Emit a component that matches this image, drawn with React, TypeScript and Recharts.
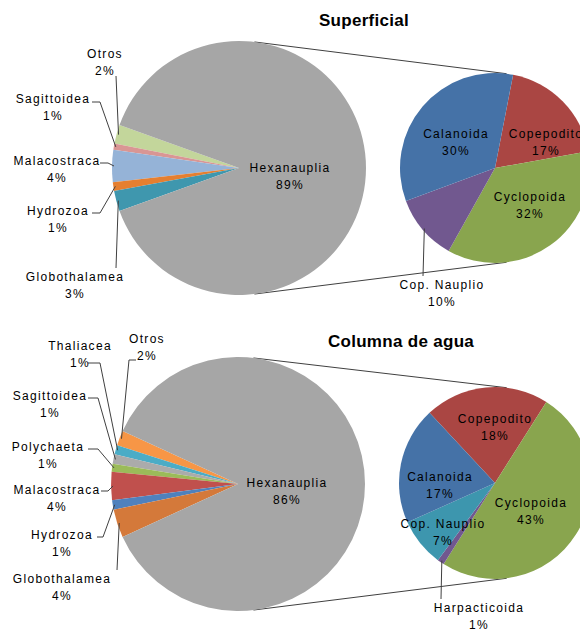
import React from 'react';
import { PieChart, Pie, Cell, Customized } from 'recharts';

// Superficial: main pie, % of total
const supNames = ['Otros', 'Sagittoidea', 'Malacostraca', 'Hydrozoa', 'Globothalamea', 'Hexanauplia'];
const supValues = [2.4, 0.8, 4.1, 1.1, 2.6, 89];
const supColors = ['#C3D69B', '#D99694', '#95B3D7', '#E57F30', '#3F97AE', '#A6A6A6'];

// Superficial: Hexanauplia split
const supSubNames = ['Copepodito', 'Cyclopoida', 'Cop. Nauplio', 'Calanoida'];
const supSubValues = [17, 32, 10, 30];
const supSubColors = ['#AA4643', '#89A54E', '#71588F', '#4572A7'];

// Columna de agua: main pie
const colNames = ['Otros', 'Thaliacea', 'Sagittoidea', 'Polychaeta', 'Malacostraca', 'Hydrozoa', 'Globothalamea', 'Hexanauplia'];
const colValues = [1.9, 1.2, 1.2, 1.0, 3.6, 1.2, 3.6, 86.3];
const colColors = ['#F79646', '#4BACC6', '#ABABAB', '#9BBB59', '#C0504D', '#4F81BD', '#D4793A', '#A6A6A6'];

// Columna de agua: Hexanauplia split
const colSubNames = ['Copepodito', 'Cyclopoida', 'Harpacticoida', 'Cop. Nauplio', 'Calanoida'];
const colSubValues = [18, 43, 1, 7, 17];
const colSubColors = ['#AA4643', '#89A54E', '#71588F', '#3D96AE', '#4572A7'];

const toRows = (names: string[], values: number[]) => names.map((name, i) => ({ name, value: values[i] }));

const supData = toRows(supNames, supValues);
const supSubData = toRows(supSubNames, supSubValues);
const colData = toRows(colNames, colValues);
const colSubData = toRows(colSubNames, colSubValues);

// pie geometry
const SUP = { cx: 239, cy: 168, r: 127 };
const SUP_SUB = { cx: 495, cy: 168, r: 95 };
const COL = { cx: 238, cy: 484, r: 127 };
const COL_SUB = { cx: 495, cy: 483, r: 96 };
const LINK_ANGLE = 83;

// the small slices sit centred on the left side
const leftStart = (values: number[]) => {
  const rest = values.slice(0, -1).reduce((a, b) => a + b, 0);
  const total = values.reduce((a, b) => a + b, 0);
  return 180 - (rest / total) * 180;
};

type Spot = { dx: number; dy: number; leader?: [number, number][] };

const supLabels: Record<string, Spot> = {
  Otros: { dx: -134, dy: -106, leader: [[-123, -92]] },
  Sagittoidea: { dx: -186, dy: -61, leader: [[-147, -66], [-139, -66]] },
  Malacostraca: { dx: -182, dy: 1, leader: [[-139, -5], [-131, -5]] },
  Hydrozoa: { dx: -181, dy: 51, leader: [[-147, 45], [-139, 45]] },
  Globothalamea: { dx: -164, dy: 117, leader: [[-123, 100]] },
  Hexanauplia: { dx: 51, dy: 8 },
};

const supSubLabels: Record<string, Spot> = {
  Calanoida: { dx: -39, dy: -26 },
  Copepodito: { dx: 51, dy: -26 },
  Cyclopoida: { dx: 35, dy: 37 },
  'Cop. Nauplio': { dx: -53, dy: 125, leader: [[-72, 108]] },
};

const colLabels: Record<string, Spot> = {
  Otros: { dx: -91, dy: -137, leader: [[-102, -124], [-109, -124]] },
  Thaliacea: { dx: -158, dy: -130, leader: [[-150, -121], [-138, -121]] },
  Sagittoidea: { dx: -188, dy: -80, leader: [[-150, -86], [-140, -86]] },
  Polychaeta: { dx: -190, dy: -29, leader: [[-150, -35], [-140, -35]] },
  Malacostraca: { dx: -181, dy: 14, leader: [[-137, 7], [-130, 7]] },
  Hydrozoa: { dx: -176, dy: 59, leader: [[-141, 53], [-135, 53]] },
  Globothalamea: { dx: -176, dy: 103, leader: [[-121, 86]] },
  Hexanauplia: { dx: 49, dy: 7 },
};

const colSubLabels: Record<string, Spot> = {
  Copepodito: { dx: 0, dy: -56 },
  Calanoida: { dx: -55, dy: 2 },
  Cyclopoida: { dx: 36, dy: 28 },
  'Cop. Nauplio': { dx: -52, dy: 49 },
  Harpacticoida: { dx: -16, dy: 133, leader: [[-54, 116]] },
};

const font = 'Liberation Sans, Arial, sans-serif';
const labelStyle = { fontFamily: font, fontSize: 12, letterSpacing: 1.3, fill: '#000' };

const makeLabel = (layout: Record<string, Spot>) => (props: any) => {
  const { cx, cy, midAngle, outerRadius, value } = props;
  const name = props.name ?? props.payload?.name;
  const spot = layout[name];
  if (!spot) return null;
  const x = cx + spot.dx;
  const y = cy + spot.dy;
  let leader = null;
  if (spot.leader) {
    const rad = (midAngle * Math.PI) / 180;
    const ex = cx + (outerRadius - 2) * Math.cos(rad);
    const ey = cy - (outerRadius - 2) * Math.sin(rad);
    const pts = spot.leader.map(([a, b]) => `${cx + a},${cy + b}`).concat(`${ex},${ey}`).join(' ');
    leader = <polyline points={pts} fill="none" stroke="#404040" strokeWidth={1} />;
  }
  return (
    <g>
      {leader}
      <text x={x} y={y - 8.5} textAnchor="middle" dominantBaseline="central" style={labelStyle}>
        {name}
      </text>
      <text x={x} y={y + 8.5} textAnchor="middle" dominantBaseline="central" style={labelStyle}>
        {`${Math.round(value)}%`}
      </text>
    </g>
  );
};

const edge = (p: { cx: number; cy: number; r: number }, deg: number) => {
  const rad = (deg * Math.PI) / 180;
  return [p.cx + p.r * Math.cos(rad), p.cy - p.r * Math.sin(rad)];
};

const Links = () => {
  const pairs = [
    [SUP, SUP_SUB],
    [COL, COL_SUB],
  ];
  return (
    <g>
      {pairs.map(([big, small], i) => {
        const [x1, y1] = edge(big, LINK_ANGLE);
        const [x2, y2] = edge(small, LINK_ANGLE);
        const [x3, y3] = edge(big, -LINK_ANGLE);
        const [x4, y4] = edge(small, -LINK_ANGLE);
        return (
          <g key={i} stroke="#404040" strokeWidth={1}>
            <line x1={x1} y1={y1} x2={x2} y2={y2} />
            <line x1={x3} y1={y3} x2={x4} y2={y4} />
          </g>
        );
      })}
    </g>
  );
};

const titleStyle = { fontFamily: font, fontSize: 17, fontWeight: 'bold' as const, letterSpacing: 0.3, fill: '#000' };

export default function App() {
  const supStart = leftStart(supValues);
  const colStart = leftStart(colValues);
  return (
    <div style={{ position: 'absolute', left: 0, top: 0, width: 580, height: 630, background: '#fff' }}>
      <PieChart width={580} height={630} margin={{ top: 0, right: 0, bottom: 0, left: 0 }}>
        <Pie
          data={supData}
          dataKey="value"
          nameKey="name"
          cx={SUP.cx}
          cy={SUP.cy}
          outerRadius={SUP.r}
          startAngle={supStart}
          endAngle={supStart + 360}
          stroke="none"
          labelLine={false}
          label={makeLabel(supLabels)}
          isAnimationActive={false}
        >
          {supData.map((d, i) => (
            <Cell key={d.name} fill={supColors[i]} />
          ))}
        </Pie>
        <Pie
          data={supSubData}
          dataKey="value"
          nameKey="name"
          cx={SUP_SUB.cx}
          cy={SUP_SUB.cy}
          outerRadius={SUP_SUB.r}
          startAngle={79}
          endAngle={79 - 360}
          stroke="none"
          labelLine={false}
          label={makeLabel(supSubLabels)}
          isAnimationActive={false}
        >
          {supSubData.map((d, i) => (
            <Cell key={d.name} fill={supSubColors[i]} />
          ))}
        </Pie>
        <Pie
          data={colData}
          dataKey="value"
          nameKey="name"
          cx={COL.cx}
          cy={COL.cy}
          outerRadius={COL.r}
          startAngle={colStart}
          endAngle={colStart + 360}
          stroke="none"
          labelLine={false}
          label={makeLabel(colLabels)}
          isAnimationActive={false}
        >
          {colData.map((d, i) => (
            <Cell key={d.name} fill={colColors[i]} />
          ))}
        </Pie>
        <Pie
          data={colSubData}
          dataKey="value"
          nameKey="name"
          cx={COL_SUB.cx}
          cy={COL_SUB.cy}
          outerRadius={COL_SUB.r}
          startAngle={133}
          endAngle={133 - 360}
          stroke="none"
          labelLine={false}
          label={makeLabel(colSubLabels)}
          isAnimationActive={false}
        >
          {colSubData.map((d, i) => (
            <Cell key={d.name} fill={colSubColors[i]} />
          ))}
        </Pie>
        <Customized component={Links} />
        <text x={364} y={26} textAnchor="middle" style={titleStyle}>
          Superficial
        </text>
        <text x={401} y={347} textAnchor="middle" style={titleStyle}>
          Columna de agua
        </text>
      </PieChart>
    </div>
  );
}
